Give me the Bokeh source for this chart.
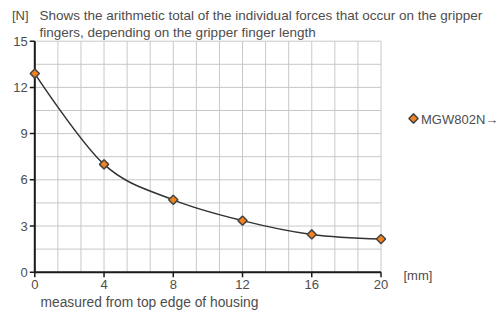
from bokeh.plotting import figure
from bokeh.models import Label, Range1d
from bokeh.core.properties import value
from bokeh.embed import file_html
from bokeh.resources import INLINE

# ---- data ----
x_mm = [0, 4, 8, 12, 16, 20]
force_n = [12.9, 7.0, 4.7, 3.35, 2.45, 2.15]
x_ticks = [0, 4, 8, 12, 16, 20]
y_ticks = [0, 3, 6, 9, 12, 15]
x_grid_steps = 15
y_grid_steps = 10
series_name = "MGW802N→"
title_unit = "[N]"
title_line1 = "Shows the arithmetic total of the individual forces that occur on the gripper"
title_line2 = "fingers, depending on the gripper finger length"
x_unit = "[mm]"
x_note = "measured from top edge of housing"

FONT = "Liberation Sans"
TXT = "#4d4d4d"
GRID = "#c8c8c8"
AXIS = "#1a1a1a"
FILL = "#f58220"
EDGE = "#444444"

# ---- layout (whole canvas is the frame) ----
W, H = 499, 314
PX0, PX1 = 34.3, 380.5     # canvas x of x=0 and x=20
PY0, PY1 = 271.7, 40.7     # canvas y of y=0 and y=15
X0, X1, Y0, Y1 = 0, 20, 0, 15
sx = (PX1 - PX0) / (X1 - X0)
sy = (PY0 - PY1) / (Y1 - Y0)

def dx(cx):
    return X0 + (cx - PX0) / sx

def dy(cy):
    return Y0 + (PY0 - cy) / sy

p = figure(width=W, height=H, output_backend="svg", toolbar_location=None,
           x_range=Range1d(dx(0), dx(W)), y_range=Range1d(dy(H), dy(0)),
           x_axis_location=None, y_axis_location=None, min_border=0)
p.outline_line_color = None
p.xgrid.visible = False
p.ygrid.visible = False
p.background_fill_color = "white"
p.border_fill_color = "white"

# grid
gx = [X0 + (X1 - X0) * k / x_grid_steps for k in range(x_grid_steps + 1)]
gy = [Y0 + (Y1 - Y0) * k / y_grid_steps for k in range(y_grid_steps + 1)]
p.segment(x0=gx, y0=[Y0] * len(gx), x1=gx, y1=[Y1] * len(gx), line_color=GRID, line_width=1)
p.segment(x0=[X0] * len(gy), y0=gy, x1=[X1] * len(gy), y1=gy, line_color=GRID, line_width=1)

# axes
tick = 5
p.segment(x0=[X0, X0], y0=[Y0, Y0], x1=[X0, X1], y1=[Y1, Y0], line_color=AXIS, line_width=2)
p.segment(x0=[X0] * len(y_ticks), y0=y_ticks, x1=[X0 - tick / sx] * len(y_ticks), y1=y_ticks,
          line_color=AXIS, line_width=1.5)
p.segment(x0=x_ticks, y0=[Y0] * len(x_ticks), x1=x_ticks, y1=[Y0 - tick / sy] * len(x_ticks),
          line_color=AXIS, line_width=1.5)
p.text(x=[X0 - 7 / sx] * len(y_ticks), y=y_ticks, text=[str(t) for t in y_ticks],
       text_font=value(FONT), text_font_size="13px", text_color=TXT,
       text_align="right", text_baseline="middle")
p.text(x=x_ticks, y=[Y0 - 7.5 / sy] * len(x_ticks), text=[str(t) for t in x_ticks],
       text_font=value(FONT), text_font_size="13px", text_color=TXT,
       text_align="center", text_baseline="top")

# smooth curve (cardinal spline through the data points)
def spline(xs, ys):
    n = len(xs)
    tx = [0.0] * n
    ty = [0.0] * n
    for i in range(1, n - 1):
        tx[i] = (xs[i + 1] - xs[i - 1]) / 6.0
        ty[i] = (ys[i + 1] - ys[i - 1]) / 6.0
    segs = dict(x0=[], y0=[], x1=[], y1=[], cx0=[], cy0=[], cx1=[], cy1=[])
    for i in range(1, n):
        segs["x0"].append(xs[i - 1]); segs["y0"].append(ys[i - 1])
        segs["x1"].append(xs[i]); segs["y1"].append(ys[i])
        segs["cx0"].append(xs[i - 1] + tx[i - 1]); segs["cy0"].append(ys[i - 1] + ty[i - 1])
        segs["cx1"].append(xs[i] - tx[i]); segs["cy1"].append(ys[i] - ty[i])
    return segs

s = spline(x_mm, force_n)
p.bezier(x0=s["x0"], y0=s["y0"], x1=s["x1"], y1=s["y1"],
         cx0=s["cx0"], cy0=s["cy0"], cx1=s["cx1"], cy1=s["cy1"],
         line_color="#333333", line_width=1.5)
marker_style = dict(marker="square", angle=0.785398, size=6.5,
                    fill_color=FILL, line_color=EDGE, line_width=1.5)
p.scatter(x_mm, force_n, **marker_style)

# legend (drawn by hand so the diamond keeps its rotation)
p.scatter([dx(413)], [dy(118)], **marker_style)

SHIFT = 4  # Label baseline correction

def add_text(txt, cx, cy, size="13px"):
    p.add_layout(Label(x=dx(cx), y=dy(cy - SHIFT), text=txt, text_font=FONT, text_font_size=size,
                       text_color=TXT, text_align="left", text_baseline="alphabetic"))

add_text(series_name, 420.5, 122.5)
add_text(title_unit, 11.5, 19)
add_text(title_line1, 39, 19, "13.5px")
add_text(title_line2, 39, 35.5, "13.5px")
add_text(x_unit, 403, 278.5)
add_text(x_note, 40, 306, "13.8px")

open("out.html", "w").write(file_html(p, INLINE))
